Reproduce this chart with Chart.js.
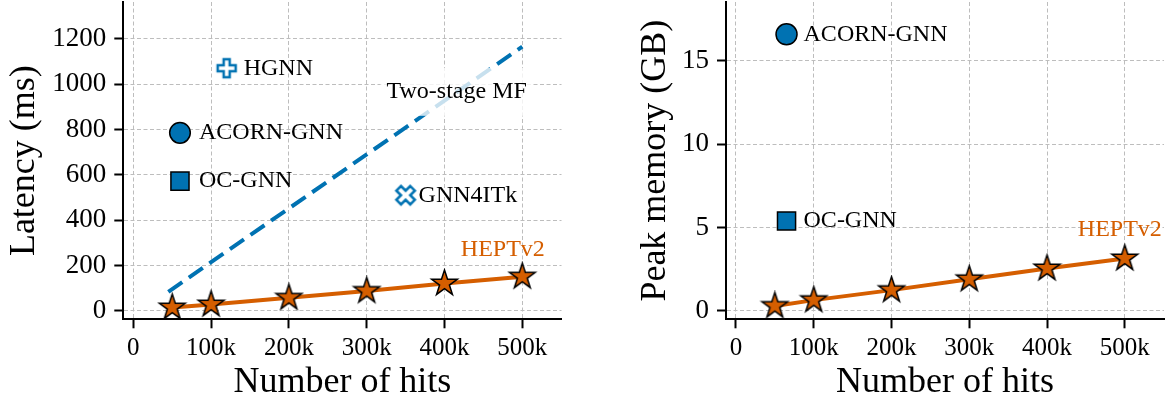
<!DOCTYPE html>
<html lang="en">

<head>
    <meta charset="UTF-8">
    <title>Latency and peak memory vs number of hits</title>
    <script src="https://cdn.jsdelivr.net/npm/chart.js"></script>
    <style>
        body { margin: 0; background: #fff; }
        .painel { position: absolute; top: 0; }
        #grafico-latencia { left: 0; }
        #grafico-memoria { left: 586px; }
    </style>
</head>

<body>
    <canvas id="grafico-latencia" class="painel" width="586" height="406"></canvas>
    <canvas id="grafico-memoria" class="painel" width="586" height="406"></canvas>
</body>

</html>

<script>

    // dados
    const hits = [50000, 100000, 200000, 300000, 400000, 500000];
    const heptLatency = [15, 28, 58, 88, 121, 151];
    const heptMemory = [0.3, 0.65, 1.25, 1.9, 2.55, 3.15];

    const mfHits = [45000, 100000, 200000, 300000, 400000, 500000];
    const mfLatency = [84, 215, 452, 690, 927, 1165];

    const latNames = ['HGNN', 'ACORN-GNN', 'OC-GNN', 'GNN4ITk'];
    const latHits = [120000, 60000, 60000, 350000];
    const latValues = [1070, 785, 572, 510];

    const memNames = ['ACORN-GNN', 'OC-GNN'];
    const memHits = [65000, 65000];
    const memValues = [16.6, 5.4];

    const xTicks = [0, 100000, 200000, 300000, 400000, 500000];
    const xTickLabels = ['0', '100k', '200k', '300k', '400k', '500k'];
    const latTicks = [0, 200, 400, 600, 800, 1000, 1200];
    const memTicks = [0, 5, 10, 15];

    const AZUL = '#0072B2';
    const LARANJA = '#D55E00';
    const FONTE = "'Liberation Serif', 'Times New Roman', serif";

    Chart.defaults.font.family = FONTE;
    Chart.defaults.color = '#000';

    // marcadores desenhados em canvas proprios
    function marcadorEstrela(r) {
        const c = document.createElement('canvas');
        const s = Math.ceil(2 * r + 4);
        c.width = s; c.height = s;
        const ctx = c.getContext('2d');
        ctx.translate(s / 2, s / 2);
        ctx.beginPath();
        for (let i = 0; i < 10; i++) {
            const rr = i % 2 === 0 ? r : r * 0.382;
            const a = -Math.PI / 2 + i * Math.PI / 5;
            ctx.lineTo(rr * Math.cos(a), rr * Math.sin(a));
        }
        ctx.closePath();
        ctx.fillStyle = LARANJA;
        ctx.fill();
        ctx.lineWidth = 1.5;
        ctx.strokeStyle = '#000';
        ctx.stroke();
        return c;
    }

    function marcadorCruz(m, rot) {
        const c = document.createElement('canvas');
        const s = Math.ceil(2 * m + 8);
        c.width = s; c.height = s;
        const ctx = c.getContext('2d');
        ctx.translate(s / 2, s / 2);
        ctx.rotate(rot);
        const a = m / 3;
        const pts = [[-a, -m], [a, -m], [a, -a], [m, -a], [m, a], [a, a], [a, m], [-a, m], [-a, a], [-m, a], [-m, -a], [-a, -a]];
        ctx.beginPath();
        pts.forEach(p => ctx.lineTo(p[0], p[1]));
        ctx.closePath();
        ctx.fillStyle = '#fff';
        ctx.fill();
        ctx.lineWidth = 2.5;
        ctx.strokeStyle = AZUL;
        ctx.stroke();
        return c;
    }

    const estrela = marcadorEstrela(13.5);
    const cruz = marcadorCruz(9, 0);
    const xis = marcadorCruz(9.8, Math.PI / 4);

    // textos junto aos pontos
    function rotulos(notas) {
        return {
            id: 'rotulos',
            afterDatasetsDraw(chart) {
                const ctx = chart.ctx;
                const sx = chart.scales.x;
                const sy = chart.scales.y;
                notas.forEach(n => {
                    const px = sx.getPixelForValue(n.x) + (n.dx || 0);
                    const py = sy.getPixelForValue(n.y);
                    ctx.save();
                    ctx.font = '24px ' + FONTE;
                    ctx.textAlign = n.alinhar;
                    ctx.textBaseline = 'middle';
                    if (n.caixa) {
                        const w = ctx.measureText(n.texto).width;
                        ctx.fillStyle = 'rgba(255,255,255,0.78)';
                        ctx.fillRect(px - w / 2 - 6, py - 24, w + 12, 48);
                    }
                    ctx.fillStyle = n.cor || '#000';
                    ctx.fillText(n.texto, px, py);
                    ctx.restore();
                });
            }
        };
    }

    const notasLatencia = [
        { texto: latNames[0], x: latHits[0], y: latValues[0], dx: 17, alinhar: 'left' },
        { texto: latNames[1], x: latHits[1], y: latValues[1], dx: 19, alinhar: 'left' },
        { texto: latNames[2], x: latHits[2], y: latValues[2], dx: 19, alinhar: 'left' },
        { texto: latNames[3], x: latHits[3], y: latValues[3], dx: 13, alinhar: 'left' },
        { texto: 'Two-stage MF', x: 415700, y: 966, alinhar: 'center', caixa: true },
        { texto: 'HEPTv2', x: 475000, y: 272, alinhar: 'center', cor: LARANJA }
    ];

    const notasMemoria = [
        { texto: memNames[0], x: memHits[0], y: memValues[0], dx: 17, alinhar: 'left' },
        { texto: memNames[1], x: memHits[1], y: memValues[1], dx: 17, alinhar: 'left' },
        { texto: 'HEPTv2', x: 493600, y: 4.9, alinhar: 'center', cor: LARANJA }
    ];

    function grade() {
        return { color: '#bdbdbd', lineWidth: 1, tickLength: 9, tickColor: '#000', tickWidth: 2, tickBorderDash: [] };
    }

    function borda() {
        return { display: true, color: '#000', width: 2, dash: [4, 2.5] };
    }

    // sem folga extra das escalas: a area do grafico fica onde a padding manda
    function semFolga(s) {
        s.paddingTop = 0;
        s.paddingBottom = 0;
        s.paddingLeft = 0;
        s.paddingRight = 0;
    }

    function eixoX() {
        return {
            type: 'linear',
            min: -12850,
            max: 550400,
            afterBuildTicks: s => { s.ticks = xTicks.map(v => ({ value: v })); },
            afterFit: s => { s.height = 86.7; semFolga(s); },
            ticks: {
                callback: (v, i) => xTickLabels[i],
                font: { size: 25 },
                color: '#000',
                padding: 5,
                maxRotation: 0,
                autoSkip: false
            },
            grid: grade(),
            border: borda(),
            title: { display: true, text: 'Number of hits', font: { size: 36 }, color: '#000', padding: { top: 0, bottom: 1.4 } }
        };
    }

    function eixoY(min, max, valores, titulo, largura) {
        return {
            type: 'linear',
            min: min,
            max: max,
            afterBuildTicks: s => { s.ticks = valores.map(v => ({ value: v })); },
            afterFit: s => { s.width = largura; semFolga(s); },
            ticks: { callback: v => String(v), font: { size: 27 }, color: '#000', padding: 8 },
            grid: grade(),
            border: borda(),
            title: { display: true, text: titulo, font: { size: 36 }, color: '#000', padding: { top: 3.4, bottom: 0 } }
        };
    }

    function pares(xs, ys) {
        return xs.map((x, i) => ({ x: x, y: ys[i] }));
    }

    function serieHept(ys) {
        return {
            label: 'HEPTv2',
            data: pares(hits, ys),
            showLine: true,
            borderColor: LARANJA,
            borderWidth: 4,
            pointStyle: estrela,
            pointRadius: 12
        };
    }

    function ponto(nome, x, y, estilo, raio) {
        return {
            label: nome,
            data: [{ x: x, y: y }],
            pointStyle: estilo,
            pointRadius: raio,
            pointBackgroundColor: AZUL,
            pointBorderColor: '#000',
            pointBorderWidth: 1.5
        };
    }

    const comum = {
        responsive: false,
        animation: false,
        devicePixelRatio: 1,
        events: [],
        plugins: { legend: { display: false }, tooltip: { enabled: false } }
    };

    new Chart(document.getElementById('grafico-latencia').getContext('2d'), {
        type: 'scatter',
        data: {
            datasets: [
                serieHept(heptLatency),
                {
                    label: 'Two-stage MF',
                    data: pares(mfHits, mfLatency),
                    showLine: true,
                    borderColor: AZUL,
                    borderWidth: 4,
                    borderDash: [17, 8],
                    pointRadius: 0
                },
                ponto(latNames[0], latHits[0], latValues[0], cruz, 10),
                ponto(latNames[1], latHits[1], latValues[1], 'circle', 10.3),
                ponto(latNames[2], latHits[2], latValues[2], 'rect', 12.8),
                ponto(latNames[3], latHits[3], latValues[3], xis, 10)
            ]
        },
        options: {
            ...comum,
            layout: { autoPadding: false, padding: { left: 0, right: 24.5, top: 2, bottom: 0 } },
            scales: {
                x: eixoX(),
                y: eixoY(-37, 1362, latTicks, 'Latency (ms)', 123.3)
            }
        },
        plugins: [rotulos(notasLatencia)]
    });

    new Chart(document.getElementById('grafico-memoria').getContext('2d'), {
        type: 'scatter',
        data: {
            datasets: [
                serieHept(heptMemory),
                ponto(memNames[0], memHits[0], memValues[0], 'circle', 10.5),
                ponto(memNames[1], memHits[1], memValues[1], 'rect', 12.8)
            ]
        },
        options: {
            ...comum,
            layout: { autoPadding: false, padding: { left: 45, right: 8, top: 2, bottom: 0 } },
            scales: {
                x: eixoX(),
                y: eixoY(-0.5, 18.54, memTicks, 'Peak memory (GB)', 95)
            }
        },
        plugins: [rotulos(notasMemoria)]
    });

</script>
